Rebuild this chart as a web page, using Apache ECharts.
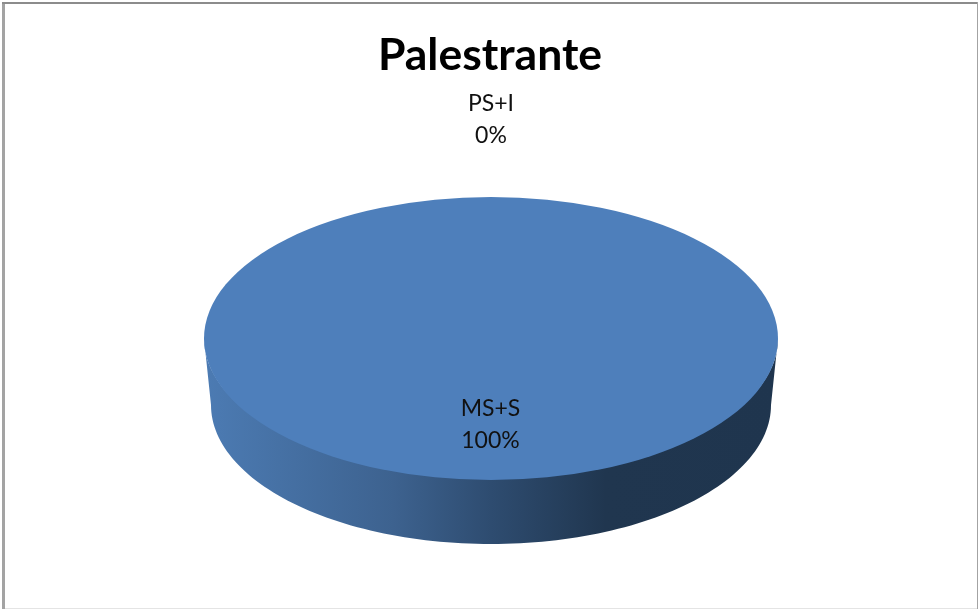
<!DOCTYPE html>
<html><head><meta charset="utf-8">
<style>html,body{margin:0;padding:0;background:#fff}#c{width:978px;height:609px}</style>
<script src="https://cdn.jsdelivr.net/npm/echarts@6/dist/echarts.min.js"></script>
</head><body><div id="c"></div>
<script>
const chartTitle = 'Palestrante';
const categories = ['MS+S', 'PS+I'];
const values = [100, 0];
const sliceColors = ['#4e7fbb', '#c0504d'];

const total = values.reduce((a, b) => a + b, 0);
const top3d = { cx: 491, cy: 338.5, rx: 287, ry: 141.5 };
const low3d = { cx: 491, cy: 405, rx: 280, ry: 139 };
const labelPos = [[490.5, 425], [491, 119.5]];

function angles(i) {
  let before = 0;
  for (let k = 0; k < i; k++) before += values[k];
  const s = -Math.PI / 2 + before / total * 2 * Math.PI;
  return [s, s + values[i] / total * 2 * Math.PI];
}
function sidePoints(a0, a1) {
  // visible front part: screen angles 0..PI, also tested one turn later
  const pts = [], back = [];
  const inset = 3; // upper edge tucks under the top face so no seam shows
  for (const shift of [0, 2 * Math.PI]) {
    const s = Math.max(a0, shift), e = Math.min(a1, Math.PI + shift);
    if (e <= s) continue;
    for (let j = 0; j <= 120; j++) {
      const a = s + (e - s) * j / 120;
      pts.push([top3d.cx + top3d.rx * Math.cos(a), top3d.cy + (top3d.ry - inset) * Math.sin(a)]);
      back.unshift([low3d.cx + low3d.rx * Math.cos(a), low3d.cy + low3d.ry * Math.sin(a)]);
    }
  }
  return pts.concat(back);
}
const sideFill = {
  type: 'linear', global: true, x: 204, y: 0, x2: 778, y2: 0,
  colorStops: [
    { offset: 0, color: '#4c7bb3' },
    { offset: 0.33, color: '#3d628f' },
    { offset: 0.5, color: '#2e4c70' },
    { offset: 0.7, color: '#20364f' },
    { offset: 1, color: '#1f354e' }
  ]
};

const chart = echarts.init(document.getElementById('c'), null, { renderer: 'canvas' });
chart.setOption({
  animation: false,
  backgroundColor: '#fff',
  title: {
    text: chartTitle, left: 485, top: 28, textAlign: 'center',
    textStyle: { fontFamily: 'Lato', fontWeight: 'bold', fontSize: 44.5, color: '#000' }
  },
  graphic: [
    { type: 'rect', shape: { x: 2, y: 2, width: 3, height: 607 }, style: { fill: '#a3a3a3' } },
    { type: 'rect', shape: { x: 2, y: 2, width: 976, height: 2 }, style: { fill: '#8c8c8c' } },
    { type: 'rect', shape: { x: 977, y: 2, width: 1, height: 607 }, style: { fill: '#a3a3a3' } },
    { type: 'rect', shape: { x: 5, y: 608, width: 972, height: 1 }, style: { fill: '#e4e4e4' } }
  ],
  series: [{
    type: 'custom',
    coordinateSystem: 'none',
    silent: true,
    data: categories.map((c, i) => ({ name: c, value: [values[i]] })),
    renderItem(params, api) {
      const i = params.dataIndex;
      const [a0, a1] = angles(i);
      const pct = Math.round(api.value(0) / total * 100);
      const children = [];
      const side = sidePoints(a0, a1);
      if (side.length) children.push({
        type: 'polygon', z2: 1, shape: { points: side },
        style: { fill: sideFill }
      });
      children.push({
        type: 'group', x: top3d.cx, y: top3d.cy, scaleY: top3d.ry / top3d.rx,
        children: [{
          type: 'sector', z2: 2,
          shape: { cx: 0, cy: 0, r: top3d.rx, r0: 0, startAngle: a0, endAngle: a1, clockwise: true },
          style: { fill: sliceColors[i] }
        }]
      });
      children.push({
        type: 'text', z2: 5, x: labelPos[i][0], y: labelPos[i][1],
        style: {
          text: categories[i] + '\n' + pct + '%', align: 'center', verticalAlign: 'middle',
          fontFamily: 'Lato', fontSize: 23, lineHeight: 32, fill: '#111'
        }
      });
      return { type: 'group', children };
    }
  }]
});
</script></body></html>
